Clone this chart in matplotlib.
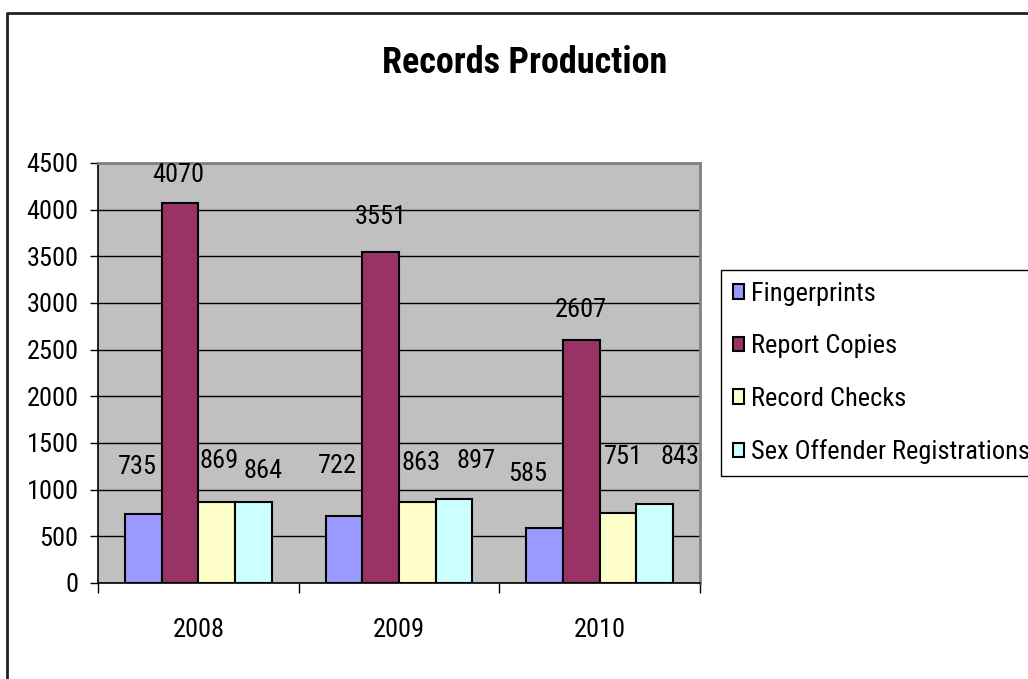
import matplotlib
matplotlib.use("Agg")
import matplotlib.pyplot as plt
from matplotlib.lines import Line2D
import numpy as np

years = ["2008", "2009", "2010"]
series_names = ["Fingerprints", "Report Copies", "Record Checks", "Sex Offender Registrations"]
fingerprints = [735, 722, 585]
report_copies = [4070, 3551, 2607]
record_checks = [869, 863, 751]
sex_offender = [864, 897, 843]
series_colors = ["#9999FF", "#993366", "#FFFFCC", "#CCFFFF"]

# hand-placed data labels: x nudge (category units) and label height (value units)
label_dx = [[-0.03, -0.035, -0.085], [-0.01, 0.0, 0.0], [0.01, 0.02, 0.025], [0.05, 0.11, 0.125]]
label_y = [[1239, 1249, 1171], [4371, 3922, 2925], [1311, 1286, 1350], [1204, 1303, 1350]]

plt.rcParams["font.family"] = ["Roboto Condensed", "Archivo Narrow", "Liberation Sans", "DejaVu Sans"]

W, H = 1028, 679
fig = plt.figure(figsize=(W / 100, H / 100), dpi=100, facecolor="white")
ax = fig.add_axes([98 / W, 1 - 583 / H, (700 - 98) / W, (583 - 163) / H])
ax.set_facecolor("#C0C0C0")

values = [fingerprints, report_copies, record_checks, sex_offender]
x = np.arange(len(years))
bw = 0.183
for i, (name, vals, col) in enumerate(zip(series_names, values, series_colors)):
    pos = x + (i - 1.5) * bw
    ax.bar(pos, vals, width=bw, color=col, edgecolor="black", linewidth=1.5,
           label=name, zorder=3)
    for j, v in enumerate(vals):
        ax.text(pos[j] + label_dx[i][j], label_y[i][j], str(v), ha="center", va="center",
                fontsize=19, color="black", zorder=4)

ax.set_xlim(-0.5, 2.5)
ax.set_ylim(0, 4500)
ax.set_yticks(np.arange(0, 4501, 500))
ax.yaxis.grid(True, color="black", linewidth=1)
ax.set_axisbelow(True)
ax.tick_params(axis="y", direction="out", length=6, width=1, labelsize=19, pad=8)

ax.set_xticks(x)
ax.set_xticklabels(years)
ax.set_xticks([-0.5, 0.5, 1.5, 2.5], minor=True)
ax.tick_params(axis="x", which="major", length=0, labelsize=19, pad=25)
ax.tick_params(axis="x", which="minor", direction="out", length=7, width=1, color="black")

ax.spines["left"].set_color("black")
ax.spines["bottom"].set_color("black")
ax.spines["left"].set_linewidth(1.2)
ax.spines["bottom"].set_linewidth(1.2)
for s in ("top", "right"):
    ax.spines[s].set_color("#808080")
    ax.spines[s].set_linewidth(2)

fig.text(525 / W, 1 - 63 / H, "Records Production", ha="center", va="center",
         fontsize=26, fontweight="bold")

leg = ax.legend(loc="upper left", bbox_to_anchor=(720.7 / W, 1 - 270 / H),
                bbox_transform=fig.transFigure, borderaxespad=0, fontsize=19,
                frameon=True, fancybox=False, edgecolor="black", framealpha=1,
                handlelength=0.45, handleheight=0.45, handletextpad=0.25,
                labelspacing=1.08, borderpad=0.45)
leg.get_frame().set_linewidth(1)
for p in leg.get_patches():
    p.set_linewidth(1.5)

# outer chart border
x0, ytop = 7 / W, 1 - 13 / H
fig.add_artist(Line2D([x0, x0, 1.0], [0.0, ytop, ytop], transform=fig.transFigure,
                      color="#222222", linewidth=2))

fig.savefig("out.png", dpi=100, facecolor="white")
